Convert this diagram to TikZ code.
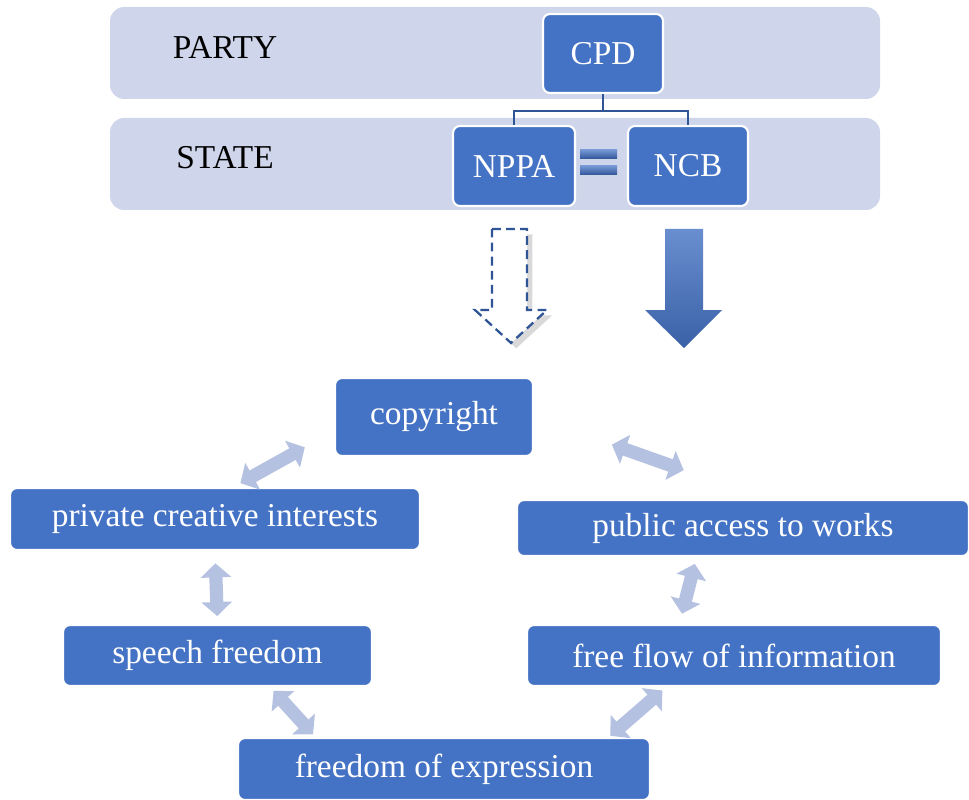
\documentclass[tikz,border=0pt]{standalone}
\usepackage{fontspec}
\setmainfont{Liberation Serif}
\usetikzlibrary{arrows.meta,shadows}
\definecolor{bandfill}{HTML}{CFD5EA}
\definecolor{boxblue}{HTML}{4472C4}
\definecolor{linkblue}{HTML}{2F5597}
\definecolor{pale}{HTML}{B4C1E1}
\tikzset{
  box/.style={draw=white, line width=1.2pt, fill=boxblue, rounded corners=4pt, text=white, inner sep=0pt, font=\fontsize{19}{22}\selectfont},
  bandstyle/.style={fill=bandfill, rounded corners=8pt},
  lbl/.style={font=\fontsize{19}{22}\selectfont},
  dbl/.style={pale, line width=7.5pt, {Triangle[width=17pt,length=8pt]}-{Triangle[width=17pt,length=8pt]}},
  tree/.style={linkblue, line width=1.6pt}
}
\begin{document}
\begin{tikzpicture}[x=0.02cm, y=-0.02cm]
\useasboundingbox (0,0) rectangle (969,800);
\fill[bandstyle] (110,7) rectangle (880,99);
\fill[bandstyle] (110,118) rectangle (880,210);
\node[lbl] (party) at (225,47) {PARTY};
\node[lbl] (state) at (225,158) {STATE};
\node[box, minimum width=2.4cm, minimum height=1.58cm] (cpd) at (603,53.5) {CPD};
\node[box, minimum width=2.44cm, minimum height=1.6cm] (nppa) at (514,166) {NPPA};
\node[box, minimum width=2.4cm, minimum height=1.6cm] (ncb) at (688,166) {NCB};
\draw[tree] (cpd.south) -- ++(0,17) -| (nppa.north);
\draw[tree] (cpd.south) -- ++(0,17) -| (ncb.north);
\shade[top color=boxblue!75, bottom color=linkblue] (580,150) rectangle (617,159);
\shade[top color=boxblue!75, bottom color=linkblue] (580,166) rectangle (617,175);
\draw[linkblue, line width=1.3pt, dash pattern=on 5pt off 3pt, fill=white, drop shadow={shadow xshift=3pt, shadow yshift=-3pt, opacity=0.3}]
  (492,229) -- (527,229) -- (527,310) -- (547,310) -- (511,343) -- (475,310) -- (492,310) -- cycle;
\shade[top color=boxblue!80, bottom color=boxblue!85!black]
  (665,229) -- (703,229) -- (703,310) -- (722,310) -- (684,348) -- (645,310) -- (665,310) -- cycle;
\node[box, minimum width=3.96cm, minimum height=1.56cm] (copy) at (434,417) {copyright};
\node[box, minimum width=8.2cm, minimum height=1.24cm] (priv) at (215,519) {private creative interests};
\node[box, minimum width=9.04cm, minimum height=1.12cm] (pub) at (743,528) {public access to works};
\node[box, minimum width=6.18cm, minimum height=1.22cm] (speech) at (217.5,655.5) {speech freedom};
\node[box, minimum width=8.28cm, minimum height=1.22cm] (flow) at (734,655.5) {free flow of information};
\node[box, minimum width=8.24cm, minimum height=1.24cm] (expr) at (444,769) {freedom of expression};
\draw[dbl, shorten <=19pt, shorten >=4.5pt] (copy.188) -- (priv.60);
\draw[dbl, shorten <=47pt, shorten >=49pt] (copy.east) -- (pub.53);
\draw[dbl, shorten <=7pt, shorten >=4.5pt] (priv.south) -- (speech.north);
\draw[dbl, shorten <=4pt, shorten >=6pt] (pub.212) -- (flow.150);
\draw[dbl, shorten <=3pt, shorten >=2pt] (speech.-31) -- (expr.166);
\draw[dbl, shorten <=3pt, shorten >=1pt] (flow.205) -- (expr.11);
\end{tikzpicture}
\end{document}
